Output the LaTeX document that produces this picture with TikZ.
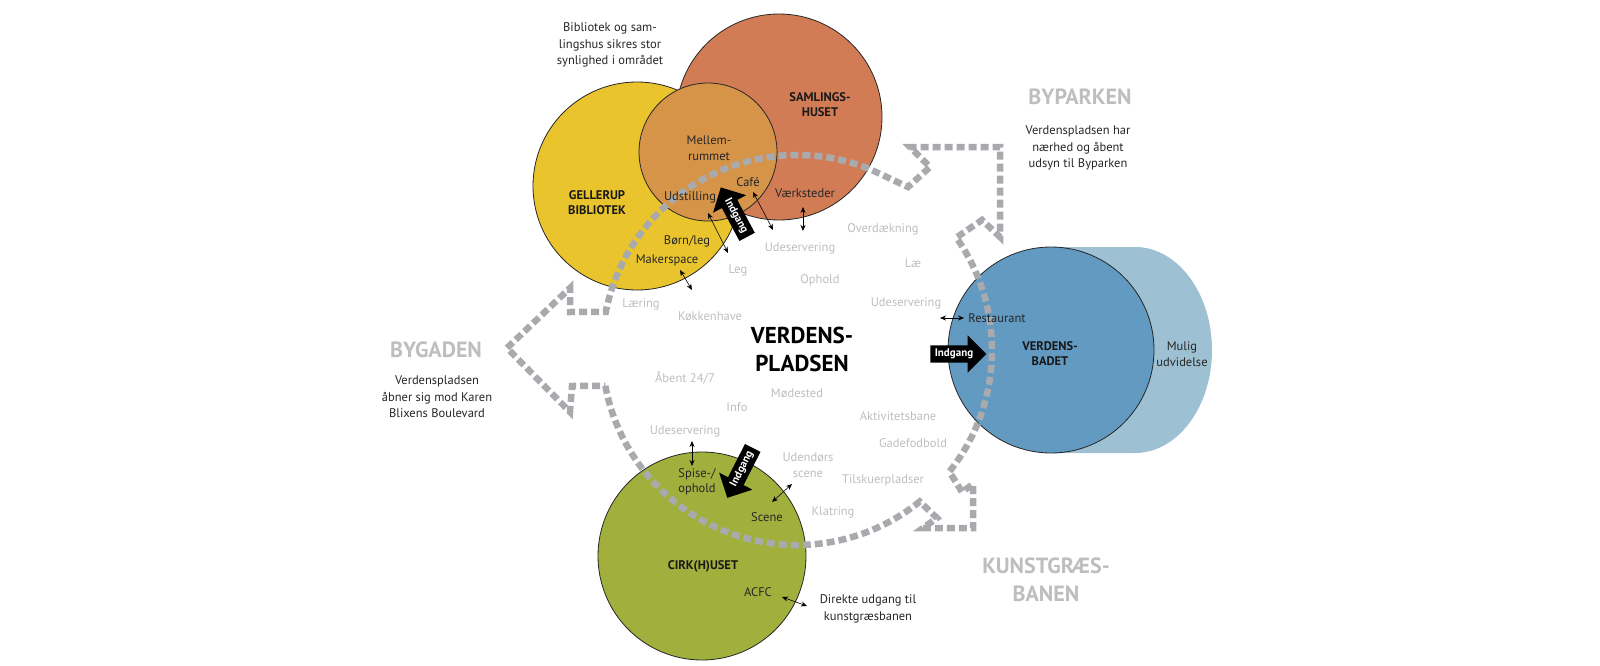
\documentclass[tikz,border=0pt]{standalone}
\usepackage{fontspec}
\setmainfont{PT Sans}
\usepackage{xcolor}
\usepackage{tikz}
\usetikzlibrary{shapes.arrows, arrows.meta, positioning, calc}
\definecolor{bibcolor}{RGB}{234,196,44}
\definecolor{samcolor}{RGB}{210,124,86}
\definecolor{midcolor}{RGB}{214,148,72}
\definecolor{badcolor}{RGB}{98,154,194}
\definecolor{extcolor}{RGB}{157,193,210}
\definecolor{cirkcolor}{RGB}{161,176,60}
\definecolor{pathcolor}{RGB}{168,170,174}
\definecolor{labelgray}{RGB}{190,190,190}

\begin{document}
\begin{tikzpicture}[
    x=1pt, y=-1pt,
    house/.style={draw=black!85, line width=0.8pt, circle, inner sep=0pt},
    title/.style={font=\fontsize{12.5}{15}\selectfont\bfseries, text=black!90, align=center},
    inner/.style={font=\fontsize{12.5}{15.5}\selectfont, text=black!85, align=center},
    note/.style={font=\fontsize{12.5}{16.5}\selectfont, text=black!85, align=center},
    activity/.style={font=\fontsize{12.5}{16}\selectfont, text=labelgray, align=center},
    area/.style={font=\fontsize{22}{28}\selectfont\bfseries, text=labelgray, align=center},
    entrance/.style={single arrow, fill=black, text=white, font=\fontsize{11}{12}\selectfont\bfseries, inner xsep=2pt, inner ysep=3.5pt, single arrow head extend=10pt, minimum height=56pt},
    link/.style={{Stealth[length=6pt,width=5pt]}-{Stealth[length=6pt,width=5pt]}, line width=0.6pt},
    boundary/.style={line width=6.5pt, draw=pathcolor, dash pattern=on 8pt off 4pt}
]
    \useasboundingbox (0,0) rectangle (1600,666);

    % Houses
    \fill[extcolor] (1051,247) -- (1135,247) arc[start angle=90, end angle=-90, x radius=77pt, y radius=103pt] -- (1051,453) -- cycle;
    \node[house, fill=badcolor, minimum size=206pt] (badet) at (1051,350) {};
    \node[house, fill=bibcolor, minimum size=208pt] (bib) at (637,186) {};
    \node[house, fill=samcolor, minimum size=206pt] (sam) at (779,117) {};
    \node[house, fill=midcolor, minimum size=138pt] (mellem) at (708,152) {};
    \node[house, fill=cirkcolor, minimum size=208pt] (cirk) at (702,556) {};

    % Boundary of the plaza
    \coordinate (plaza) at (797,350);
    \draw[boundary] ($(plaza)+(190.6:195pt)$) arc[start angle=190.6, end angle=309, radius=195pt]
        -- (937,518) -- (923,528) -- (973,528) -- (973,484) -- (962,492)
        -- ($(plaza)+(321.4:195pt)$) arc[start angle=321.4, end angle=395.2, radius=195pt]
        -- (982,220) -- (1000,237) -- (1000,147) -- (910,147) -- (930,167) -- (908,187)
        -- ($(plaza)+(68.2:195pt)$) arc[start angle=68.2, end angle=168.7, radius=195pt]
        -- (570,312) -- (570,288) -- (507,348) -- (570,412) -- (572,386) -- cycle;

    % Library and assembly house
    \node[note] (visible) at (610,45) {Bibliotek og sam-\\lingshus sikres stor\\synlighed i området};
    \node[title] (samtitle) at (820,105) {SAMLINGS-\\HUSET};
    \node[inner] (mellemtitle) at (709,148) {Mellem-\\rummet};
    \node[title] (bibtitle) at (597,203) {GELLERUP\\BIBLIOTEK};
    \node[inner] (udstilling) at (690,197) {Udstilling};
    \node[inner] (cafe) at (748,182) {Café};
    \node[inner] (vaerksted) at (805,193) {Værksteder};
    \node[inner] (bornleg) at (687,241) {Børn/leg};
    \node[inner] (maker) at (667,260) {Makerspace};
    \node[entrance, rotate=-62, shape border rotate=180] (indgangbib) at (736,216) {Indgang};

    % Surroundings
    \node[area] (byparken) at (1080,97) {BYPARKEN};
    \node[note] (byparknote) at (1078,148) {Verdenspladsen har\\nærhed og åbent\\udsyn til Byparken};
    \node[area] (bygaden) at (436,350) {BYGADEN};
    \node[note] (bygadenote) at (437,397) {Verdenspladsen\\åbner sig mod Karen\\Blixens Boulevard};
    \node[area] (kunstgraes) at (1046,580) {KUNSTGRÆS-\\BANEN};

    % Plaza
    \node[font=\fontsize{23}{28}\selectfont\bfseries, align=center] (plazatitle) at (802,349) {VERDENS-\\PLADSEN};
    \node[activity] (overdaek) at (883,229) {Overdækning};
    \node[activity] (udeserv1) at (800,248) {Udeservering};
    \node[activity] (lae) at (913,263) {Læ};
    \node[activity] (leg) at (738,270) {Leg};
    \node[activity] (ophold) at (820,280) {Ophold};
    \node[activity] (udeserv2) at (906,303) {Udeservering};
    \node[activity] (laering) at (641,304) {Læring};
    \node[activity] (koekken) at (710,316) {Køkkenhave};
    \node[activity] (aabent) at (685,378) {Åbent 24/7};
    \node[activity] (moede) at (797,393) {Mødested};
    \node[activity] (info) at (737,407) {Info};
    \node[activity] (aktiv) at (898,416) {Aktivitetsbane};
    \node[activity] (udeserv3) at (685,431) {Udeservering};
    \node[activity] (gadefod) at (913,443) {Gadefodbold};
    \node[activity] (udescene) at (808,465) {Udendørs\\scene};
    \node[activity] (tilskuer) at (883,480) {Tilskuerpladser};
    \node[activity] (klatring) at (833,512) {Klatring};

    % Swimming bath
    \node[title] (badtitle) at (1050,354) {VERDENS-\\BADET};
    \node[inner] (udvidelse) at (1182,354) {Mulig\\udvidelse};
    \node[inner] (restaurant) at (997,318) {Restaurant};
    \node[entrance] (indgangbad) at (954,354) {Indgang};

    % Circus house
    \node[title] (cirktitle) at (703,566) {CIRK(H)USET};
    \node[inner] (spise) at (697,482) {Spise-/\\ophold};
    \node[inner] (scene) at (767,517) {Scene};
    \node[inner] (acfc) at (758,592) {ACFC};
    \node[note] (udgang) at (868,609) {Direkte udgang til\\kunstgræsbanen};
    \node[entrance, rotate=63, shape border rotate=180] (indgangcirk) at (742,469) {Indgang};

    % Links
    \coordinate (udst-in) at (708,213);   \coordinate (udst-out) at (728,253);
    \coordinate (cafe-in) at (753,192);   \coordinate (cafe-out) at (773,230);
    \coordinate (vaerk-in) at (803,207);  \coordinate (vaerk-out) at (803,231);
    \coordinate (maker-in) at (680,270);  \coordinate (maker-out) at (692,290);
    \coordinate (rest-in) at (964,318);   \coordinate (rest-out) at (940,318);
    \coordinate (spise-in) at (692,466);  \coordinate (spise-out) at (692,441);
    \coordinate (scene-in) at (772,502);  \coordinate (scene-out) at (792,484);
    \coordinate (acfc-in) at (782,597);   \coordinate (acfc-out) at (807,606);
    \draw[link] (udst-in) -- (udst-out);
    \draw[link] (cafe-in) -- (cafe-out);
    \draw[link] (vaerk-in) -- (vaerk-out);
    \draw[link] (maker-in) -- (maker-out);
    \draw[link] (rest-in) -- (rest-out);
    \draw[link] (spise-in) -- (spise-out);
    \draw[link] (scene-in) -- (scene-out);
    \draw[link] (acfc-in) -- (acfc-out);
\end{tikzpicture}
\end{document}
